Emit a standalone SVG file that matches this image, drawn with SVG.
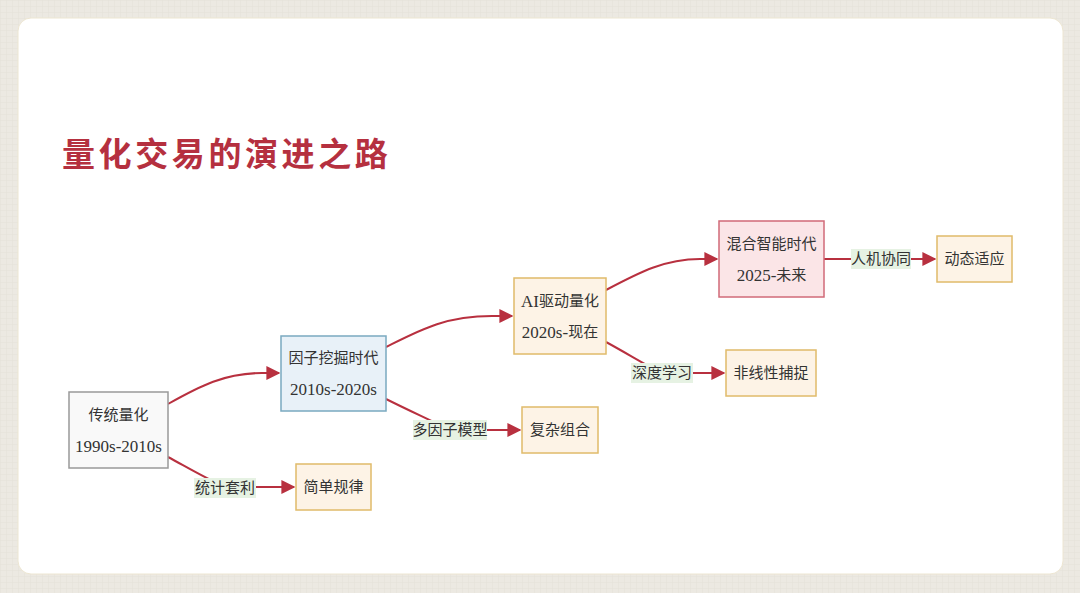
<svg xmlns="http://www.w3.org/2000/svg" width="1080" height="593" viewBox="0 0 1080 593">
<defs>
<pattern id="grid" width="6" height="6" patternUnits="userSpaceOnUse">
<rect width="6" height="6" fill="#ece9e2"/>
<path d="M0 0H6M0 0V6" stroke="#e4e1d9" stroke-width="1"/>
</pattern>
<marker id="arr" viewBox="0 0 10 10" refX="9" refY="5" markerWidth="7" markerHeight="7" markerUnits="strokeWidth" orient="auto">
<path d="M0 0L10 5L0 10z" fill="#b8303f"/>
</marker>
<style>
.t{font-family:"Liberation Serif","Noto Sans CJK SC",serif;font-size:15px;fill:#333;text-anchor:middle;dominant-baseline:central}
.l{font-size:17px}
.e{fill:none;stroke:#b8303f;stroke-width:2}
.lb{fill:#e6f2e3}
.n0{fill:#f9f9f9;stroke:#999;stroke-width:1.5}
.n1{fill:#e8f1f8;stroke:#7aa9c0;stroke-width:1.5}
.n2{fill:#fdf3e6;stroke:#e0bb6a;stroke-width:1.5}
.n3{fill:#fbe5e7;stroke:#d16a78;stroke-width:1.5}
</style>
</defs>
<rect width="1080" height="593" fill="url(#grid)"/>
<rect x="18" y="18" width="1045" height="556" rx="13" fill="#fff" stroke="#ede6d2" stroke-width="1"/>
<text x="62" y="166" font-family="'Noto Sans CJK SC',sans-serif" font-weight="bold" font-size="33" fill="#b5303f" letter-spacing="3.6">量化交易的演进之路</text>
<g id="connectors">
<path class="e" d="M168 404C200 386 225 373 262 373L279 373" marker-end="url(#arr)"/>
<path class="e" d="M168 457C190 469 205 478 225 487L294 487" marker-end="url(#arr)"/>
<path class="e" d="M386 347C420 330 445 316 492 316L512 316" marker-end="url(#arr)"/>
<path class="e" d="M386 399C410 411 430 420 450 430L520 430" marker-end="url(#arr)"/>
<path class="e" d="M606 290C640 272 665 259 700 259L717 259" marker-end="url(#arr)"/>
<path class="e" d="M606 342C630 355 645 365 662 373L724 373" marker-end="url(#arr)"/>
<path class="e" d="M824 259L935 259" marker-end="url(#arr)"/>
<rect class="lb" x="194" y="478" width="62" height="20"/>
<text class="t" x="225" y="488">统计套利</text>
<rect class="lb" x="413" y="420" width="74" height="20"/>
<text class="t" x="450" y="430">多因子模型</text>
<rect class="lb" x="631" y="363" width="62" height="20"/>
<text class="t" x="662" y="373">深度学习</text>
<rect class="lb" x="851" y="249" width="60" height="20"/>
<text class="t" x="881" y="259">人机协同</text>
</g>
<g id="n_trad"><rect class="n0" x="69" y="392" width="99" height="76"/><text class="t" x="118.5" y="415">传统量化</text><text class="t l" x="118.5" y="446">1990s-2010s</text></g>
<g id="n_factor"><rect class="n1" x="281" y="336" width="105" height="75"/><text class="t" x="333.5" y="358">因子挖掘时代</text><text class="t l" x="333.5" y="389">2010s-2020s</text></g>
<g id="n_ai"><rect class="n2" x="514" y="278" width="92" height="76"/><text class="t" x="560" y="301"><tspan class="l">AI</tspan>驱动量化</text><text class="t" x="560" y="332"><tspan class="l">2020s-</tspan>现在</text></g>
<g id="n_hybrid"><rect class="n3" x="719" y="221" width="105" height="76"/><text class="t" x="771.5" y="244">混合智能时代</text><text class="t" x="771.5" y="275"><tspan class="l">2025-</tspan>未来</text></g>
<g id="n_dyn"><rect class="n2" x="937" y="236" width="75" height="46"/><text class="t" x="974.5" y="259">动态适应</text></g>
<g id="n_nonlin"><rect class="n2" x="726" y="350" width="90" height="46"/><text class="t" x="771" y="373">非线性捕捉</text></g>
<g id="n_complex"><rect class="n2" x="522" y="407" width="76" height="46"/><text class="t" x="560" y="430">复杂组合</text></g>
<g id="n_simple"><rect class="n2" x="296" y="464" width="75" height="46"/><text class="t" x="333.5" y="487">简单规律</text></g>
</svg>
